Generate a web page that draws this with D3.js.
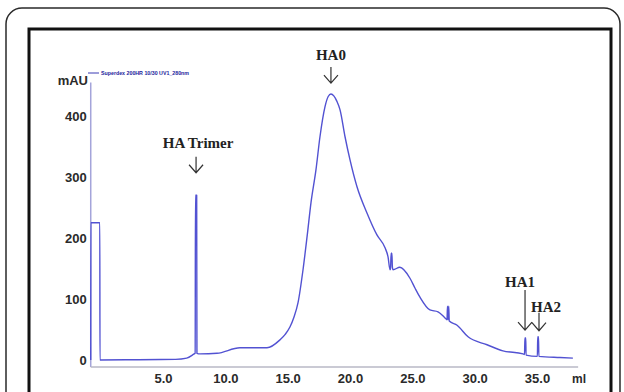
<!DOCTYPE html>
<html>
<head>
<meta charset="utf-8">
<script src="https://cdn.jsdelivr.net/npm/d3@7"></script>
<style>
  body { margin: 0; background: #fff; }
  svg { display: block; }
</style>
</head>
<body>
<div id="plot"></div>
<script>
// elution volume (ml) and absorbance (mAU)
var volume = [-0.8, -0.79, -0.07, -0.06, 3, 6.0, 6.9, 7.5, 7.58, 7.6, 7.7, 7.72, 7.97, 9.33, 11.17, 13.34, 14.38, 14.8,
    15.18, 15.5, 15.83, 16.23, 16.56, 16.87, 17.27, 17.59, 17.99, 18.25, 18.47, 18.7, 18.95, 19.2, 19.6, 20.0, 20.56,
    21.36, 22.16, 22.81, 23.05, 23.21, 23.25, 23.3, 23.36, 23.4, 23.45, 24.0, 24.81, 25.21, 25.61, 26.41, 27.06,
    27.62, 27.78, 27.82, 27.86, 27.92, 27.96, 28.59, 29.47, 30.99, 32.27, 33.88, 34.0, 34.03, 34.1, 34.12, 35.03,
    35.06, 35.12, 35.15, 36.84, 37.88];
var absorbance = [0, 225, 225, 0, 0.5, 1, 3, 10, 11, 270, 270, 11, 10, 11, 20, 20, 33, 42,
    54, 70, 94, 148, 203, 258, 312, 366, 415, 432, 436, 433, 424, 410, 366, 328, 284,
    241, 205, 184, 169, 148, 150, 175, 175, 152, 148, 152, 134, 118, 103, 82, 79,
    69, 66, 88, 66, 88, 64, 57, 38, 25, 15, 10, 9, 36, 36, 8, 6,
    38, 38, 6, 4, 3];

var yTicks = [0, 100, 200, 300, 400];
var xTicks = [5, 10, 15, 20, 25, 30, 35];

// peak annotations: label, volume of the arrow, absorbance at the arrow tip
var peakNames = ["HA0", "HA Trimer", "HA1", "HA2"];
var peakVolume = [18.47, 7.65, 34.04, 35.16];
var peakTip = [454, 307, 49, 48];

var W = 624, H = 392;
var svg = d3.select("#plot").append("svg").attr("width", W).attr("height", H);

// card + black frame
svg.append("rect").attr("x", 6).attr("y", 8).attr("width", 614).attr("height", 430)
    .attr("rx", 16).attr("fill", "none").attr("stroke", "#2a2a2a").attr("stroke-width", 1.5);
svg.append("rect").attr("x", 29).attr("y", 29).attr("width", 582).attr("height", 420)
    .attr("fill", "none").attr("stroke", "#111").attr("stroke-width", 3);

var x = d3.scaleLinear().domain([0, 35]).range([100.7, 537]);
var y = d3.scaleLinear().domain([0, 400]).range([360, 116]);

// axis lines
svg.append("line").attr("x1", x(-0.8)).attr("x2", x(-0.8)).attr("y1", y(455)).attr("y2", y(-11.5))
    .attr("stroke", "#a4a4da").attr("stroke-width", 1.5);
svg.append("line").attr("x1", x(-0.8)).attr("x2", x(38.3)).attr("y1", y(-11.5)).attr("y2", y(-11.5))
    .attr("stroke", "#b8b8c6").attr("stroke-width", 1.3);

var yAxis = svg.append("g").attr("transform", "translate(" + x(-0.8) + ",0)")
    .call(d3.axisLeft(y).tickValues(yTicks).tickSize(0).tickPadding(4).tickFormat(d3.format("d")));
var xAxis = svg.append("g").attr("transform", "translate(0," + y(-11.5) + ")")
    .call(d3.axisBottom(x).tickValues(xTicks).tickSize(0).tickPadding(7).tickFormat(d3.format(".1f")));
[yAxis, xAxis].forEach(function (g) {
    g.select(".domain").remove();
    g.selectAll("text").attr("font-family", "Liberation Sans, Arial, sans-serif")
        .attr("font-weight", "bold").attr("font-size", 13).attr("fill", "#2a2a2a");
});

svg.append("text").attr("x", 88).attr("y", 85).attr("text-anchor", "end")
    .attr("font-family", "Liberation Sans, Arial, sans-serif").attr("font-weight", "bold")
    .attr("font-size", 13).attr("fill", "#2a2a2a").text("mAU");
svg.append("text").attr("x", 572).attr("y", y(-11.5) + 16)
    .attr("font-family", "Liberation Sans, Arial, sans-serif").attr("font-weight", "bold")
    .attr("font-size", 12).attr("fill", "#2a2a2a").text("ml");

// tiny run legend at the top of the y axis
svg.append("line").attr("x1", 88).attr("x2", 99).attr("y1", 73).attr("y2", 73)
    .attr("stroke", "#3b3bb4").attr("stroke-width", 1);
svg.append("text").attr("x", 101).attr("y", 75).attr("textLength", 88).attr("lengthAdjust", "spacingAndGlyphs")
    .attr("font-family", "Liberation Sans, Arial, sans-serif").attr("font-weight", "bold")
    .attr("font-size", 5).attr("fill", "#23239c").text("Superdex 200HR 10/30 UV1_280nm");

// chromatogram
var line = d3.line().curve(d3.curveMonotoneX)
    .x(function (d) { return x(d[0]); }).y(function (d) { return y(d[1]); });
svg.append("path").datum(d3.zip(volume, absorbance)).attr("d", line)
    .attr("fill", "none").attr("stroke", "#5252d2").attr("stroke-width", 1.4).attr("stroke-linejoin", "round");

// annotations
var arrowLen = [16, 16, 40, 18];
var textDx = [0, 2, -5, 7];
var textGap = [7, 9, 3, 1];
peakNames.forEach(function (name, i) {
    var ax = x(peakVolume[i]), tip = y(peakTip[i]), top = tip - arrowLen[i];
    svg.append("path")
        .attr("d", "M" + ax + "," + top + "V" + tip + "M" + (ax - 7) + "," + (tip - 8) + "L" + ax + "," + tip + "L" + (ax + 7) + "," + (tip - 8))
        .attr("fill", "none").attr("stroke", "#333").attr("stroke-width", 1.2);
    svg.append("text").attr("x", ax + textDx[i]).attr("y", top - textGap[i]).attr("text-anchor", "middle")
        .attr("font-family", "Liberation Serif, Times New Roman, serif").attr("font-weight", "bold")
        .attr("font-size", 15).attr("fill", "#222").text(name);
});
</script>
</body>
</html>
